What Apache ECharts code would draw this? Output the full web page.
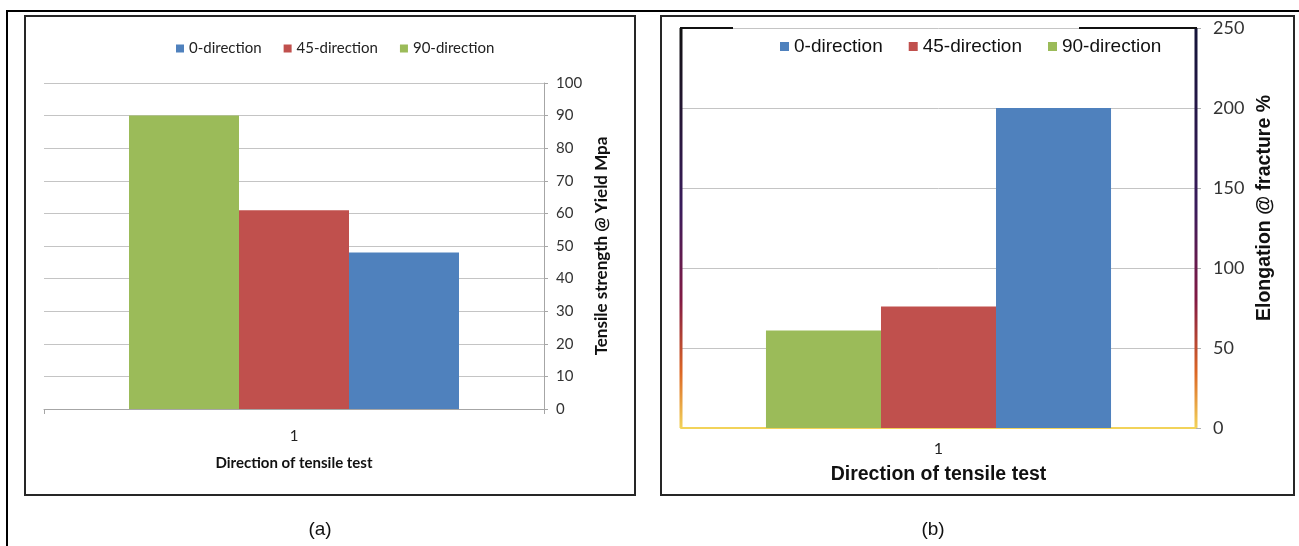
<!DOCTYPE html>
<html>
<head>
<meta charset="utf-8">
<script src="https://cdn.jsdelivr.net/npm/echarts@6/dist/echarts.min.js"></script>
<style>
  html, body { margin: 0; padding: 0; background: #fff; }
  #chart { width: 1299px; height: 546px; }
</style>
</head>
<body>
<div id="chart"></div>
<script>
// Category and series data
const categories = ['1'];
const seriesNames = ['0-direction', '45-direction', '90-direction'];
const seriesColors = ['#4F81BD', '#C0504D', '#9BBB59'];

// (a) tensile strength at yield, MPa
const strength0 = [48];
const strength45 = [61];
const strength90 = [90];

// (b) elongation at fracture, %
const elongation0 = [200];
const elongation45 = [76];
const elongation90 = [61];

// Panel layout (pixels)
const gridA = { left: 44, top: 83, width: 500, height: 326 };
const gridB = { left: 681, top: 28, width: 515, height: 400 };

const calibri = 'Lato, "Open Sans", sans-serif';
const arial = '"Liberation Sans", Arial, sans-serif';

const chart = echarts.init(document.getElementById('chart'), null, { renderer: 'canvas' });

// Dark-to-warm gradient for the frame of panel (b)
function frameGradient(y0, y1, topColor) {
  return new echarts.graphic.LinearGradient(0, y0, 0, y1, [
    { offset: 0, color: topColor },
    { offset: 0.45, color: '#3a1c5c' },
    { offset: 0.68, color: '#821a44' },
    { offset: 0.86, color: '#dc6624' },
    { offset: 1, color: '#f2d35a' }
  ], true);
}

const bYTop = gridB.top, bYBot = gridB.top + gridB.height;
const bXL = gridB.left, bXR = gridB.left + gridB.width;

function barSeries(name, color, data, idx) {
  return {
    type: 'bar', name: name, data: data,
    xAxisIndex: idx, yAxisIndex: idx,
    itemStyle: { color: color },
    barGap: '0%', barCategoryGap: idx === 0 ? '34%' : '33%',
    emphasis: { disabled: true }
  };
}

// Bars are laid out 90 / 45 / 0 from left to right
const option = {
  animation: false,
  backgroundColor: '#fff',
  grid: [
    Object.assign({}, gridA),
    Object.assign({}, gridB)
  ],
  legend: [
    {
      data: seriesNames, left: 171, top: 36,
      icon: 'rect', itemWidth: 8, itemHeight: 8, itemGap: 22,
      selectedMode: false,
      textStyle: { fontFamily: calibri, fontSize: 15, color: '#222' }
    },
    {
      data: seriesNames, left: 775, top: 32,
      icon: 'rect', itemWidth: 9, itemHeight: 9, itemGap: 26,
      selectedMode: false,
      textStyle: { fontFamily: arial, fontSize: 19, color: '#111' }
    }
  ],
  xAxis: [
    {
      gridIndex: 0, type: 'category', data: categories,
      axisLine: { lineStyle: { color: '#a6a6a6', width: 1 } },
      axisTick: { show: true, length: 5, lineStyle: { color: '#a6a6a6' } },
      axisLabel: { margin: 20, fontFamily: calibri, fontSize: 15, color: '#222' },
      name: 'Direction of tensile test', nameLocation: 'middle', nameGap: 47,
      nameTextStyle: { fontFamily: calibri, fontSize: 15, fontWeight: 'bold', color: '#111' }
    },
    {
      gridIndex: 1, type: 'category', data: categories,
      axisLine: { lineStyle: { color: '#f2d35a', width: 2 } },
      axisTick: { show: false },
      axisLabel: { margin: 13, fontFamily: calibri, fontSize: 16, color: '#222' },
      name: 'Direction of tensile test', nameLocation: 'middle', nameGap: 37,
      nameTextStyle: { fontFamily: arial, fontSize: 19.5, fontWeight: 'bold', color: '#111' }
    }
  ],
  yAxis: [
    {
      gridIndex: 0, type: 'value', position: 'right',
      min: 0, max: 100, interval: 10,
      axisLine: { show: true, lineStyle: { color: '#a6a6a6' } },
      axisTick: { show: true, length: 4, lineStyle: { color: '#a6a6a6' } },
      axisLabel: { margin: 12, fontFamily: calibri, fontSize: 15, color: '#333' },
      splitLine: { lineStyle: { color: '#c4c4c4' } },
      name: 'Tensile strength @ Yield Mpa', nameLocation: 'middle', nameRotate: 90, nameGap: 49,
      nameTextStyle: { fontFamily: calibri, fontSize: 17, fontWeight: 'bold', color: '#111' }
    },
    {
      gridIndex: 1, type: 'value', position: 'right',
      min: 0, max: 250, interval: 50,
      axisLine: { show: false },
      axisTick: { show: true, length: 5, lineStyle: { color: '#b0b0b0' } },
      axisLabel: { margin: 17, fontFamily: calibri, fontSize: 18, color: '#333' },
      splitLine: { lineStyle: { color: '#c4c4c4' } },
      name: 'Elongation @ fracture %', nameLocation: 'middle', nameRotate: 90, nameGap: 59,
      nameTextStyle: { fontFamily: arial, fontSize: 19.5, fontWeight: 'bold', color: '#111', padding: [0, 0, 0, 40] }
    }
  ],
  series: [
    barSeries(seriesNames[2], seriesColors[2], strength90, 0),
    barSeries(seriesNames[1], seriesColors[1], strength45, 0),
    barSeries(seriesNames[0], seriesColors[0], strength0, 0),
    barSeries(seriesNames[2], seriesColors[2], elongation90, 1),
    barSeries(seriesNames[1], seriesColors[1], elongation45, 1),
    barSeries(seriesNames[0], seriesColors[0], elongation0, 1)
  ],
  graphic: [
    // figure rules
    { type: 'line', shape: { x1: 7, y1: 11, x2: 1299, y2: 11 }, style: { stroke: '#000', lineWidth: 2 } },
    { type: 'line', shape: { x1: 7, y1: 10, x2: 7, y2: 546 }, style: { stroke: '#000', lineWidth: 2 } },
    // panel boxes
    { type: 'rect', shape: { x: 25, y: 16, width: 610, height: 479 }, style: { fill: null, stroke: '#262626', lineWidth: 2 } },
    { type: 'rect', shape: { x: 661, y: 16, width: 633, height: 479 }, style: { fill: null, stroke: '#262626', lineWidth: 2 } },
    // frame of panel (b)
    { type: 'line', z: 10, shape: { x1: bXL, y1: bYTop, x2: bXL, y2: bYBot }, style: { stroke: frameGradient(bYTop, bYBot, '#111'), lineWidth: 3 } },
    { type: 'line', z: 10, shape: { x1: bXR, y1: bYTop, x2: bXR, y2: bYBot }, style: { stroke: frameGradient(bYTop, bYBot, '#141438'), lineWidth: 3 } },
    { type: 'line', z: 10, shape: { x1: bXL - 1, y1: bYTop, x2: 733, y2: bYTop }, style: { stroke: '#111', lineWidth: 2 } },
    { type: 'line', z: 10, shape: { x1: 1079, y1: bYTop, x2: bXR + 1, y2: bYTop }, style: { stroke: '#111', lineWidth: 2 } },
    // panel captions
    { type: 'text', x: 320, y: 530, style: { text: '(a)', fontFamily: arial, fontSize: 19, fill: '#111', align: 'center', verticalAlign: 'middle' } },
    { type: 'text', x: 933, y: 530, style: { text: '(b)', fontFamily: arial, fontSize: 19, fill: '#111', align: 'center', verticalAlign: 'middle' } }
  ]
};

chart.setOption(option);
</script>
</body>
</html>
